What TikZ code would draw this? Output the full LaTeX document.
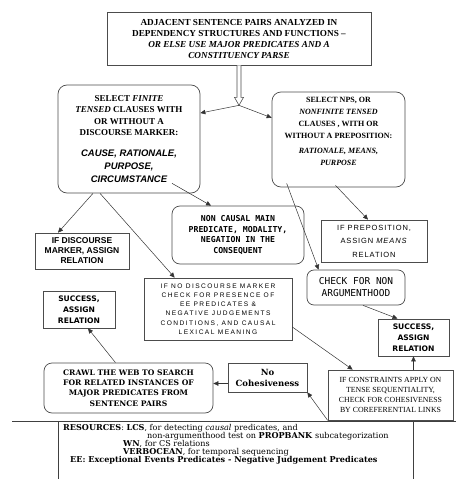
\documentclass[tikz,border=0pt]{standalone}
\usepackage{fontspec}
\setmainfont{Liberation Serif}
\usetikzlibrary{arrows.meta,calc}
\newfontfamily\fsans{Liberation Sans}
\newfontfamily\fmono{DejaVu Sans Mono}
\newfontfamily\fdsans{DejaVu Sans}
\newfontfamily\fdserif{DejaVu Serif}
\newfontfamily\fspaced[LetterSpace=22]{Liberation Sans}
\newfontfamily\fthin[LetterSpace=12]{Liberation Sans}
\newcommand\czt[1]{{\fsans\bfseries\itshape #1}}
\begin{document}
\begin{tikzpicture}[x=1pt,y=-1pt,
  box/.style={draw=black!70, line width=0.7pt, inner sep=0pt, align=center, fill=white},
  rbox/.style={box, rounded corners=9pt},
  arr/.style={draw=black!80, line width=0.5pt, -{Triangle[length=5pt,width=4.5pt]}},
  sep/.style={draw=black!75, line width=0.6pt},
  res/.style={anchor=base west, inner sep=0pt, font=\fdserif\fontsize{8.1}{8}\selectfont}
]
\useasboundingbox (0,0) rectangle (456,479);

% top box
\node[box, minimum width=264pt, minimum height=53pt, font=\fontsize{9.2}{11}\selectfont\bfseries] (top) at (239,38.5)
  {ADJACENT SENTENCE PAIRS ANALYZED IN\\ DEPENDENCY STRUCTURES AND FUNCTIONS --\\ {\itshape OR ELSE USE MAJOR PREDICATES AND A}\\ {\itshape CONSTITUENCY PARSE}};

% hollow arrow
\coordinate (fork) at ($(top.south)+(0,40)$);
\draw[draw=black!70, line width=0.6pt, fill=white] ($(top.south)+(-2,0)$) -- ($(top.south)+(-2,32)$) -- ($(top.south)+(-4.5,32)$) -- (fork) -- ($(top.south)+(4.5,32)$) -- ($(top.south)+(2,32)$) -- ($(top.south)+(2,0)$);

% left rounded box
\node[rbox, minimum width=142pt, minimum height=108pt, font=\fontsize{9}{11.5}\selectfont\bfseries] (L) at (129,139)
  {SELECT \textit{FINITE}\\ \textit{TENSED} CLAUSES WITH\\ OR WITHOUT A\\ DISCOURSE MARKER:\\[9pt]
   \czt{\fontsize{9.5}{11.5}\selectfont CAUSE, RATIONALE,}\\[2pt] \czt{\fontsize{9.5}{11.5}\selectfont PURPOSE,}\\[1.5pt] \czt{\fontsize{9.5}{11.5}\selectfont CIRCUMSTANCE}};

% right rounded box
\node[rbox, minimum width=133pt, minimum height=95pt, font=\fontsize{8}{12}\selectfont\bfseries] (R) at (338.5,139.5)
  {SELECT NPS, OR\\ \textit{NONFINITE TENSED}\\ CLAUSES , WITH OR\\ WITHOUT A PREPOSITION:\\[3pt] \textit{RATIONALE, MEANS,}\\ \textit{PURPOSE}\\[4pt]};

% non causal
\node[rbox, rounded corners=8pt, minimum width=132pt, minimum height=58pt, font=\fmono\bfseries\fontsize{8.2}{10.6}\selectfont] (NC) at (238,235)
  {NON CAUSAL MAIN\\PREDICATE, MODALITY,\\NEGATION IN THE\\CONSEQUENT};

% if discourse marker
\node[box, minimum width=94pt, minimum height=36pt, font=\fsans\bfseries\fontsize{8.5}{10}\selectfont] (IDM) at (82,251)
  {IF DISCOURSE\\MARKER, ASSIGN\\RELATION};

% success left
\node[box, minimum width=72pt, minimum height=37pt, font=\fdsans\bfseries\fontsize{7.6}{11}\selectfont] (SL) at (79,309.5)
  {SUCCESS,\\ASSIGN\\RELATION};

% if no discourse marker
\node[box, minimum width=148pt, minimum height=62pt, font=\fspaced\fontsize{6.6}{9.3}\selectfont] (INO) at (218,309)
  {IF NO DISCOURSE MARKER\\CHECK FOR PRESENCE OF\\EE PREDICATES \&\\NEGATIVE JUDGEMENTS\\CONDITIONS, AND CAUSAL\\LEXICAL MEANING};

% if preposition
\node[box, minimum width=106pt, minimum height=42pt, font=\fthin\fontsize{7.5}{13.5}\selectfont] (IP) at (374,241)
  {IF PREPOSITION,\\ASSIGN \textit{MEANS}\\RELATION};

% check non argumenthood
\node[rbox, rounded corners=7pt, minimum width=98pt, minimum height=35pt, font=\fmono\fontsize{9.5}{12}\selectfont] (CK) at (356,287.5)
  {CHECK FOR NON\\ARGUMENTHOOD};

% success right
\node[box, minimum width=71pt, minimum height=37pt, font=\fdsans\bfseries\fontsize{7.6}{11}\selectfont] (SR) at (413.5,337.5)
  {SUCCESS,\\ASSIGN\\RELATION};

% constraints
\node[box, minimum width=125pt, minimum height=50pt, font=\fontsize{7.8}{10}\selectfont] (CO) at (390.5,395)
  {IF CONSTRAINTS APPLY ON\\TENSE SEQUENTIALITY,\\CHECK FOR COHESIVENESS\\BY COREFERENTIAL LINKS};

% no cohesiveness
\node[box, minimum width=79pt, minimum height=29pt, font=\fdserif\bfseries\fontsize{8.5}{11}\selectfont] (NO) at (267.5,377.5)
  {No\\Cohesiveness};

% crawl
\node[rbox, rounded corners=8pt, minimum width=169pt, minimum height=50pt, font=\fdserif\bfseries\fontsize{7.6}{10.3}\selectfont] (CR) at (128.5,388)
  {CRAWL THE WEB TO SEARCH\\FOR RELATED INSTANCES OF\\MAJOR PREDICATES FROM\\SENTENCE PAIRS};

% connectors
\draw[arr] (fork) -- (L.20);
\draw[arr] (fork) -- (R.162);
\draw[arr] ($(L.south)+(-36,0)$) -- ($(IDM.north)+(-24,0)$);
\draw[arr] ($(L.south)+(-29,0)$) -- ($(INO.north west)+(31,0)$);
\draw[arr] ($(L.south)+(43,-10)$) -- ($(NC.north)+(-27,0)$);
\draw[arr] ($(R.south)+(-3,-2)$) -- ($(IP.north)+(-6,0)$);
\draw[arr] ($(R.south west)+(15,-4)$) -- ($(CK.north west)+(12,0)$);
\draw[arr] ($(CK.south)+(7,0)$) -- ($(SR.north)+(-16,0)$);
\draw[arr] (CO.north -| SR.south) -- (SR.south);
\draw[arr] ($(INO.east)+(0,18)$) -- ($(CO.north west)+(25,0)$);
\draw[arr] (CO.south west) -- (NO.south east);
\draw[arr] ($(NO.west)+(0,6)$) coordinate (nw) -- (nw -| CR.east);
\draw[arr] ($(CR.north)+(-13,0)$) -- ($(SL.south)+(9,0)$);

% resources panel
\draw[sep] (12,421) -- (456,421);
\draw[sep] (58,421) -- (58,479);
\draw[sep] (413,421) -- (413,479);
\node[res] (r1) at (63,430) {\textbf{RESOURCES}: \textbf{LCS}, for detecting \textit{causal} predicates, and};
\node[res] (r2) at (147,438) {non-argumenthood test on \textbf{PROPBANK} subcategorization};
\node[res] (r3) at (123,446) {\textbf{WN}, for CS relations};
\node[res] (r4) at (123,454) {\textbf{VERBOCEAN}, for temporal sequencing};
\node[res] (r5) at (70,462) {\textbf{EE: Exceptional Events Predicates - Negative Judgement Predicates}};
\end{tikzpicture}
\end{document}
